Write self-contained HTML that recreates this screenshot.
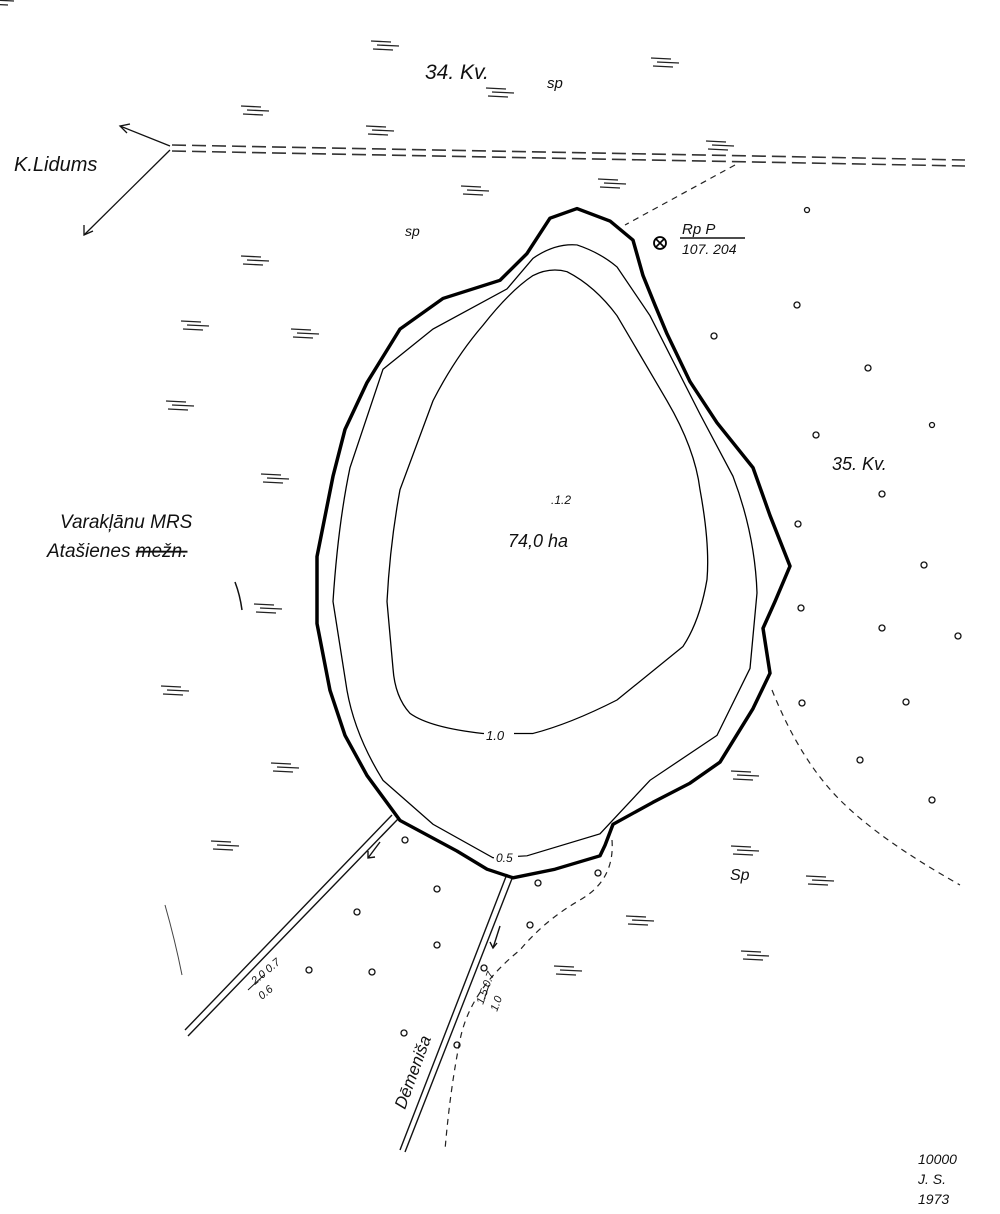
<!DOCTYPE html>
<html><head><meta charset="utf-8"><style>
html,body{margin:0;padding:0;background:#fff;}
svg{display:block;}
text{font-family:"Liberation Sans",sans-serif;font-style:italic;fill:#111;}
</style></head><body>
<svg width="1000" height="1214" viewBox="0 0 1000 1214" xmlns="http://www.w3.org/2000/svg">
<rect width="1000" height="1214" fill="#fff"/>
<g stroke="#333" stroke-width="1.6" stroke-dasharray="14,6" fill="none">
<line x1="172" y1="145" x2="965" y2="160"/>
<line x1="172" y1="151" x2="965" y2="166"/>
</g>
<g stroke="#111" stroke-width="1.3" fill="none">
<line x1="170" y1="146" x2="120" y2="126"/>
<polyline points="130,124 120,126 127,133"/>
<line x1="170" y1="150" x2="84" y2="235"/>
<polyline points="84,225 84,235 93,231"/>
</g>
<g stroke="#222" stroke-width="1.2" stroke-dasharray="6,5" fill="none">
<line x1="735" y1="165" x2="625" y2="225"/>
<path d="M772,690 Q800,760 840,800 T960,885"/>
<path d="M612,840 Q615,880 580,900 T520,950 Q470,990 460,1040 T445,1150"/>
</g>
<g stroke="#111" stroke-width="1.4" fill="none">
<line x1="392" y1="815" x2="185" y2="1030"/>
<line x1="398" y1="819" x2="188" y2="1036"/>
<line x1="507" y1="874" x2="400" y2="1150"/>
<line x1="513" y1="876" x2="405" y2="1152"/>
<line x1="380" y1="842" x2="368" y2="858"/><polyline points="368,851 368,858 375,857"/>
<line x1="500" y1="926" x2="493" y2="948"/><polyline points="490,942 493,948 497,943"/>
</g>
<g transform="translate(0,200) scale(1,0.956) translate(0,-200)">
<path d="M577,209 L610,222 L633,242 L643,279 L655,310 L667,340 L690,390 L717,433 L753,480 L770,530 L790,583 L775,620 L763,648 L770,695 L753,732 L720,788 L690,810 L653,830 L613,853 L605,875 L600,886 L555,900 L513,909 L487,900 L457,881 L400,849 L367,802 L345,760 L330,713 L317,643 L317,573 L333,489 L345,440 L367,391 L400,335 L443,303 L500,284 L527,256 L550,219 Z" fill="none" stroke="#000" stroke-width="3.5" stroke-linejoin="round"/>
<path d="M577,247 Q600,255 617,270 L650,321 L700,424 L733,489 Q755,550 757,611 L750,690 L717,760 L650,807 L600,863 L527,886 L493,888 L433,853 L383,807 Q355,760 347,713 L333,620 Q338,540 350,480 L383,377 L433,335 L507,293 L533,261 Q555,245 577,247 Z" fill="none" stroke="#000" stroke-width="1.3"/>
<path d="M567,275 Q595,290 617,321 L667,410 Q695,460 700,503 Q710,560 707,597 Q700,640 683,667 L617,723 Q570,748 533,758 L483,758 Q430,752 410,737 Q395,720 393,690 L387,620 Q390,560 400,503 L433,410 Q455,365 483,331 Q510,295 533,279 Q550,270 567,275 Z" fill="none" stroke="#000" stroke-width="1.3"/>
</g>
<rect x="484" y="728" width="30" height="14" fill="#fff"/>
<text x="486" y="740" font-size="13">1.0</text>
<rect x="494" y="851" width="24" height="13" fill="#fff"/>
<text x="496" y="862" font-size="12">0.5</text>
<text x="551" y="504" font-size="12">.1.2</text>
<text x="508" y="547" font-size="18">74,0 ha</text>
<text x="425" y="79" font-size="21">34. Kv.</text>
<text x="547" y="88" font-size="15">sp</text>
<text x="405" y="236" font-size="14">sp</text>
<text x="730" y="880" font-size="16">Sp</text>
<text x="14" y="171" font-size="20">K.Lidums</text>
<text x="60" y="528" font-size="19">Varakļānu MRS</text>
<text x="47" y="557" font-size="19">Atašienes <tspan text-decoration="line-through">mežn.</tspan></text>
<text x="832" y="470" font-size="18">35. Kv.</text>
<text x="682" y="234" font-size="15">Rp P</text>
<line x1="680" y1="238" x2="745" y2="238" stroke="#111" stroke-width="1.5"/>
<text x="682" y="254" font-size="14">107. 204</text>
<circle cx="660" cy="243" r="6" fill="none" stroke="#000" stroke-width="1.8"/>
<path d="M656,239 L664,247 M664,239 L656,247" stroke="#000" stroke-width="1.6"/>
<text x="918" y="1164" font-size="14">10000</text>
<text x="918" y="1184" font-size="14">J. S.</text>
<text x="918" y="1204" font-size="14">1973</text>
<g font-size="11">
<text transform="translate(255,985) rotate(-40)">2.0  0.7</text>
<text transform="translate(262,1000) rotate(-40)">0.6</text>
<text transform="translate(405,1110) rotate(-70)" font-size="17">Dēmeniša</text>
<text transform="translate(483,1005) rotate(-70)">1.5  0.7</text>
<text transform="translate(497,1012) rotate(-70)">1.0</text>
</g>
<line x1="248" y1="990" x2="264" y2="975" stroke="#111" stroke-width="1"/>
<line x1="484" y1="1000" x2="489" y2="985" stroke="#111" stroke-width="1"/>
<g fill="none" stroke="#111" stroke-width="1.3">
<circle cx="807" cy="210" r="2.5"/><circle cx="797" cy="305" r="3"/><circle cx="714" cy="336" r="3"/>
<circle cx="868" cy="368" r="3"/><circle cx="816" cy="435" r="3"/><circle cx="932" cy="425" r="2.5"/>
<circle cx="882" cy="494" r="3"/><circle cx="798" cy="524" r="3"/><circle cx="924" cy="565" r="3"/>
<circle cx="801" cy="608" r="3"/><circle cx="882" cy="628" r="3"/><circle cx="958" cy="636" r="3"/>
<circle cx="802" cy="703" r="3"/><circle cx="906" cy="702" r="3"/><circle cx="860" cy="760" r="3"/>
<circle cx="932" cy="800" r="3"/><circle cx="405" cy="840" r="3"/><circle cx="437" cy="889" r="3"/>
<circle cx="357" cy="912" r="3"/><circle cx="437" cy="945" r="3"/><circle cx="538" cy="883" r="3"/>
<circle cx="598" cy="873" r="3"/><circle cx="309" cy="970" r="3"/><circle cx="372" cy="972" r="3"/>
<circle cx="404" cy="1033" r="3"/><circle cx="457" cy="1045" r="3"/><circle cx="484" cy="968" r="3"/>
<circle cx="530" cy="925" r="3"/>
</g>
<g stroke="#222" stroke-width="1.3" fill="none">
<g id="m"><line x1="-14" y1="-4" x2="6" y2="-3"/><line x1="-8" y1="0" x2="14" y2="1"/><line x1="-12" y1="4" x2="8" y2="5"/></g>
<use href="#m" x="385" y="45"/><use href="#m" x="500" y="92"/><use href="#m" x="255" y="110"/>
<use href="#m" x="380" y="130"/><use href="#m" x="665" y="62"/><use href="#m" x="720" y="145"/>
<use href="#m" x="475" y="190"/><use href="#m" x="612" y="183"/><use href="#m" x="255" y="260"/>
<use href="#m" x="305" y="333"/><use href="#m" x="180" y="405"/><use href="#m" x="275" y="478"/>
<use href="#m" x="268" y="608"/><use href="#m" x="175" y="690"/><use href="#m" x="285" y="767"/>
<use href="#m" x="225" y="845"/><use href="#m" x="745" y="775"/><use href="#m" x="745" y="850"/>
<use href="#m" x="820" y="880"/><use href="#m" x="640" y="920"/><use href="#m" x="568" y="970"/>
<use href="#m" x="755" y="955"/><use href="#m" x="195" y="325"/>
</g>
<path d="M235,582 Q240,595 242,610" stroke="#111" stroke-width="1.5" fill="none"/>
<path d="M165,905 Q175,940 182,975" stroke="#444" stroke-width="1" fill="none"/>
</svg>
</body></html>
